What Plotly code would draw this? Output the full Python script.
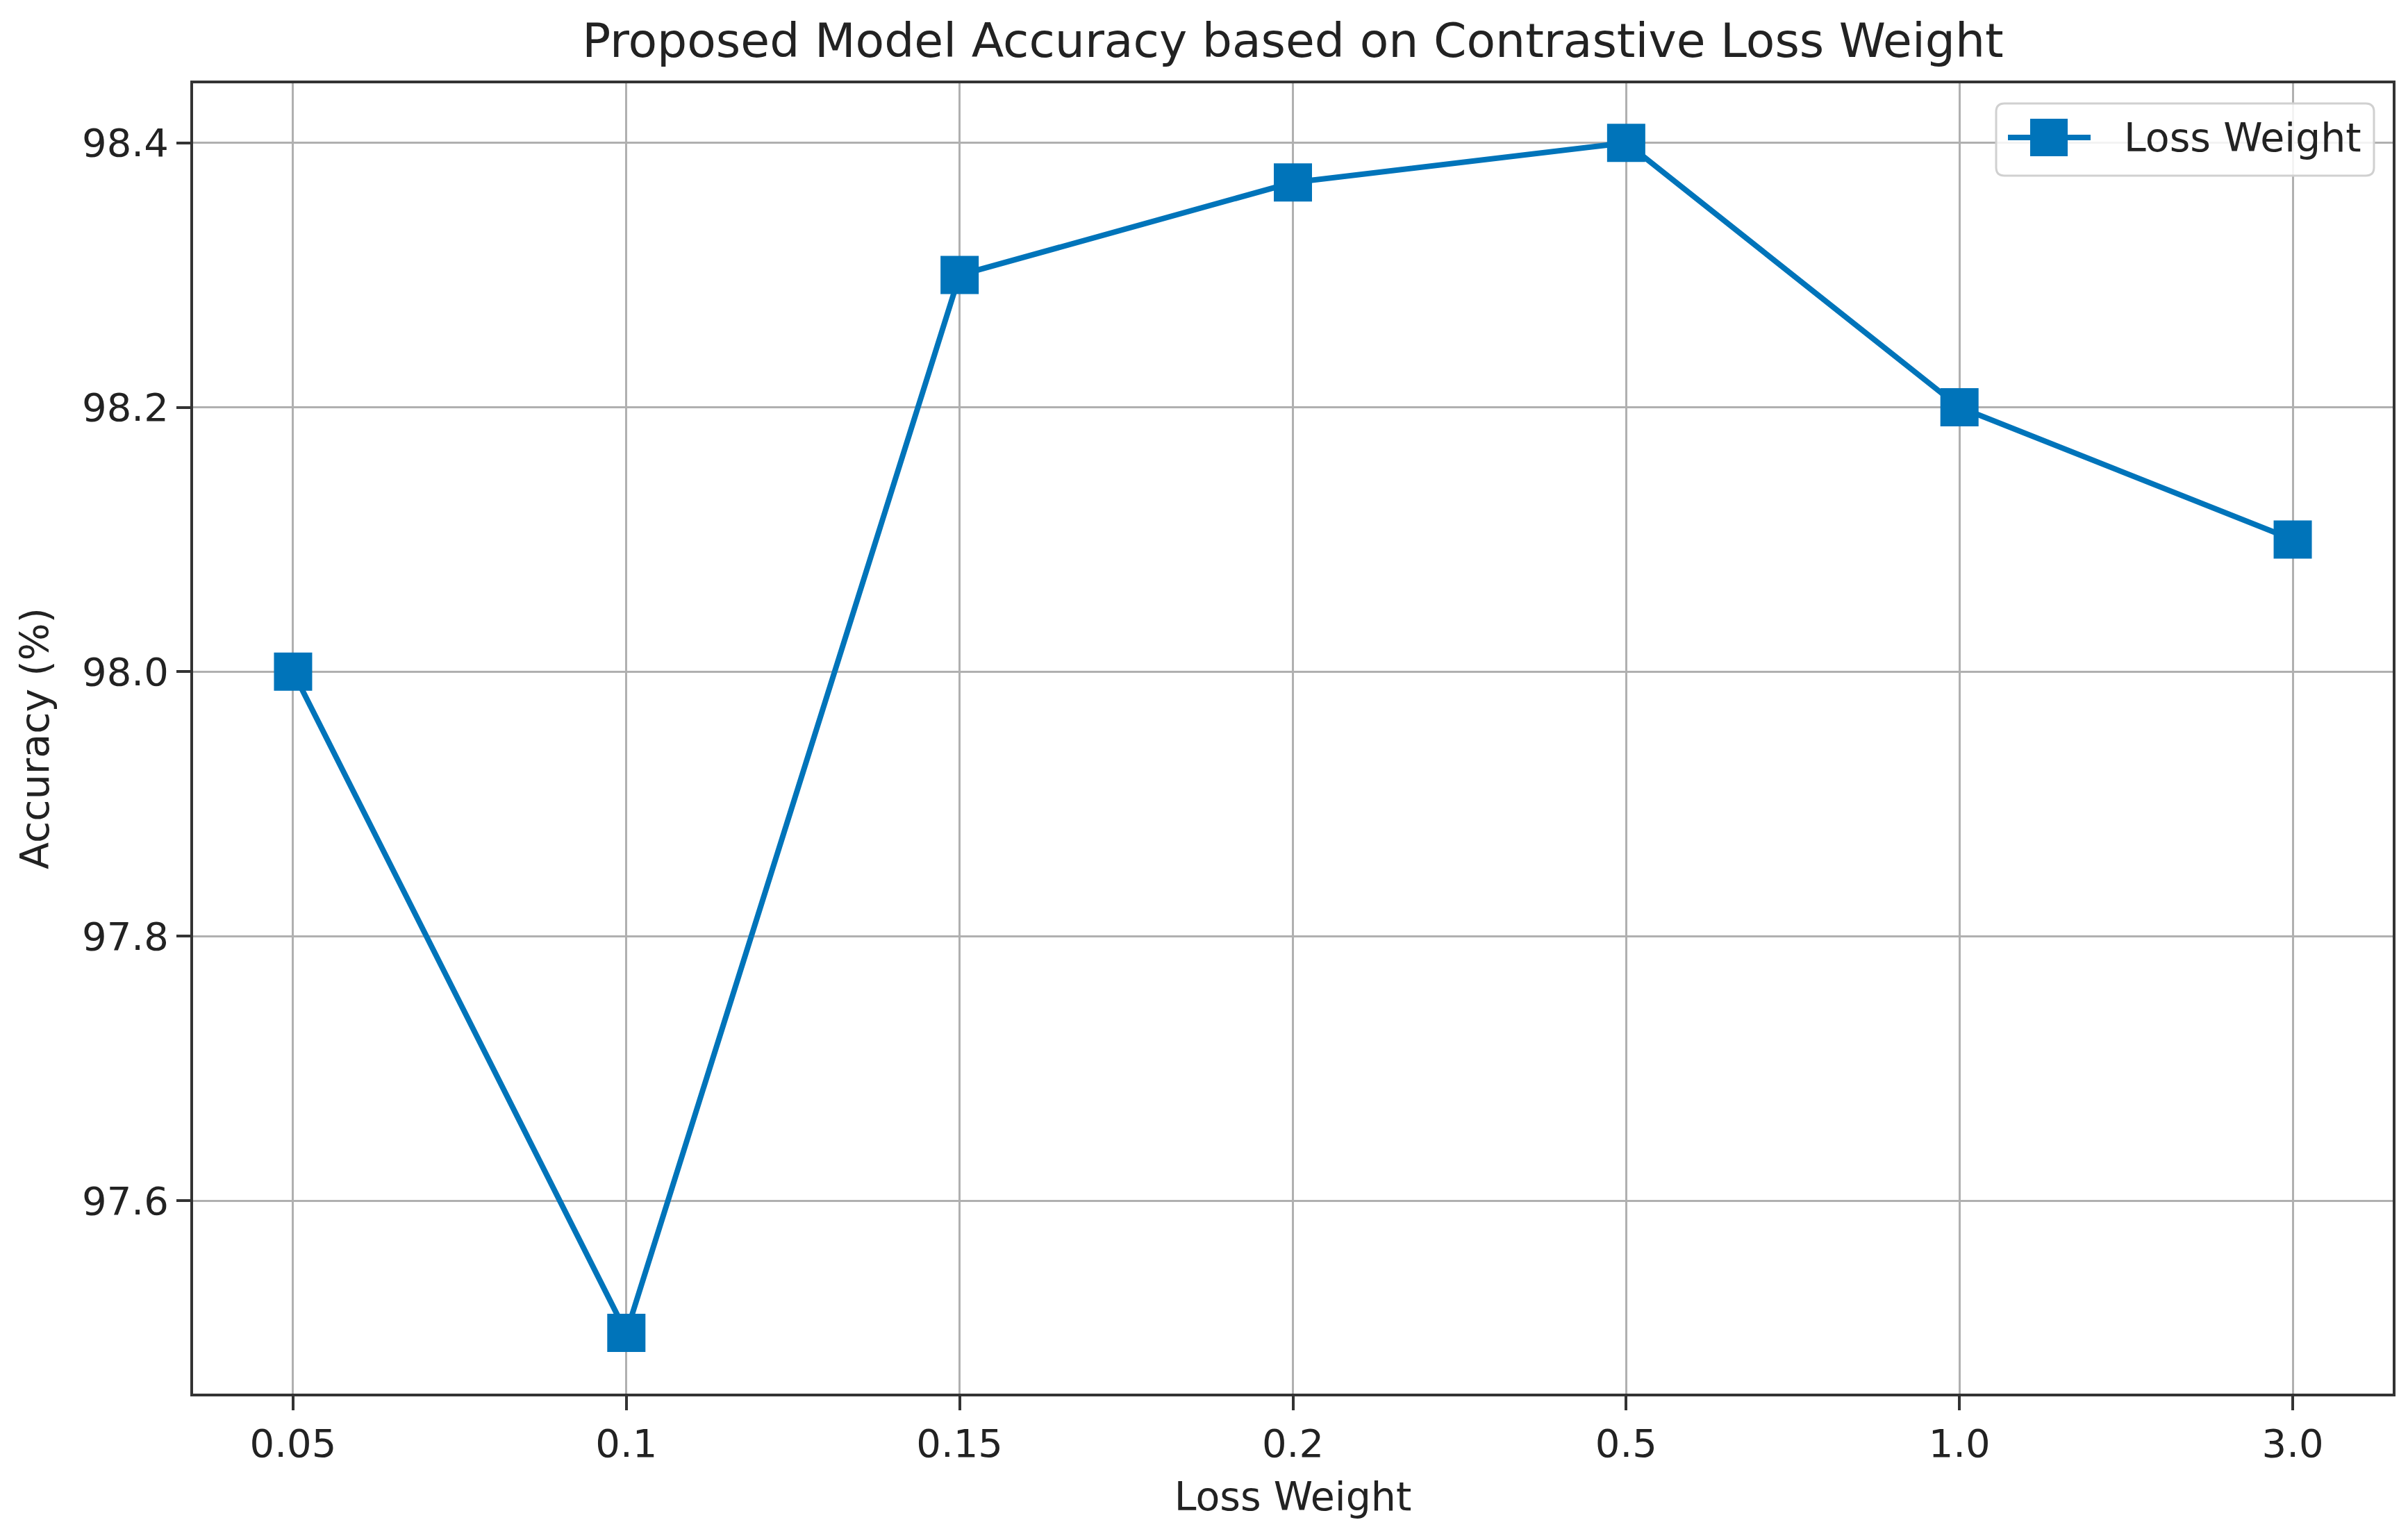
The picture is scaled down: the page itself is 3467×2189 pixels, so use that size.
import plotly.graph_objects as go

loss_weights = ["0.05", "0.1", "0.15", "0.2", "0.5", "1.0", "3.0"]
accuracy = [98.0, 97.5, 98.3, 98.37, 98.4, 98.2, 98.1]
y_ticks = [97.6, 97.8, 98.0, 98.2, 98.4]
series_name = "Loss Weight"

W, H = 3467, 2189
L, R, T, B = 270, 30, 112, 190
PW, PH = W - L - R, H - T - B
blue = "#0074BA"
font = "DejaVu Sans"
ink = "#222222"

fig = go.Figure()
fig.add_trace(go.Scatter(
    x=loss_weights, y=accuracy, mode="lines+markers", name=series_name,
    line=dict(color=blue, width=8),
    marker=dict(symbol="square", size=55, color=blue, line=dict(width=0)),
    showlegend=False,
))

axis_common = dict(
    showline=True, mirror=True, linecolor="#333333", linewidth=4,
    showgrid=True, gridcolor="#b0b0b0", gridwidth=3,
    ticks="outside", ticklen=20, tickwidth=4, tickcolor="#333333",
    tickfont=dict(family=font, size=56, color=ink),
    zeroline=False,
)

fig.update_xaxes(
    type="category", range=[-0.3, 6.3],
    title=dict(text="Loss Weight", font=dict(family=font, size=57, color=ink), standoff=26),
    **axis_common,
)
fig.update_yaxes(
    range=[97.454, 98.445], tickvals=y_ticks, ticktext=[f"{v:.1f}" for v in y_ticks],
    title=dict(text="Accuracy (%)", font=dict(family=font, size=57, color=ink), standoff=30),
    **axis_common,
)

# legend box drawn in paper coordinates (matplotlib-style legend key)
def px_x(p):
    return (p - L) / PW

def px_y(p):
    return (H - B - p) / PH

bx0, bx1 = px_x(2866), px_x(3410)
by0, by1 = px_y(245), px_y(141)
rx, ry = 12 / PW, 12 / PH
box_path = (f"M {bx0+rx},{by1} L {bx1-rx},{by1} Q {bx1},{by1} {bx1},{by1-ry} "
            f"L {bx1},{by0+ry} Q {bx1},{by0} {bx1-rx},{by0} L {bx0+rx},{by0} "
            f"Q {bx0},{by0} {bx0},{by0+ry} L {bx0},{by1-ry} Q {bx0},{by1} {bx0+rx},{by1} Z")
ly = px_y(190)
mx = px_x(2942)
hs_x, hs_y = 27 / PW, 27 / PH
shapes = [
    dict(type="path", xref="paper", yref="paper", path=box_path,
         line=dict(color="#d0d0d0", width=3), fillcolor="rgba(255,255,255,0.85)", layer="above"),
    dict(type="line", xref="paper", yref="paper", x0=px_x(2883), x1=px_x(3002), y0=ly, y1=ly,
         line=dict(color=blue, width=8), layer="above"),
    dict(type="rect", xref="paper", yref="paper", x0=mx - hs_x, x1=mx + hs_x, y0=ly - hs_y, y1=ly + hs_y,
         line=dict(width=0), fillcolor=blue, layer="above"),
]
annotations = [
    dict(text=series_name, xref="paper", yref="paper", x=px_x(3048), y=ly,
         xanchor="left", yanchor="middle", showarrow=False,
         font=dict(family=font, size=57, color=ink)),
]

fig.update_layout(
    width=W, height=H,
    margin=dict(l=L, r=R, t=T, b=B),
    paper_bgcolor="white", plot_bgcolor="white",
    title=dict(text="Proposed Model Accuracy based on Contrastive Loss Weight",
               font=dict(family=font, size=68, color=ink),
               x=0.5, xref="paper", xanchor="center",
               y=1 - 50 / H, yanchor="middle"),
    showlegend=False,
    shapes=shapes,
    annotations=annotations,
)

fig.write_html("out.html")
